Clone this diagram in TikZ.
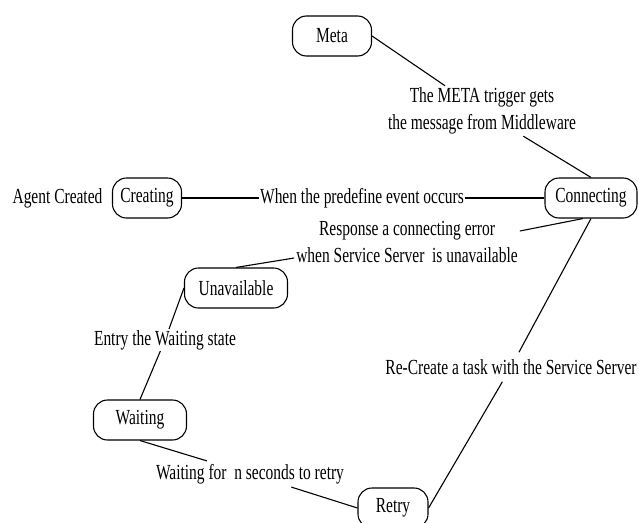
\documentclass[tikz,border=0pt]{standalone}
\usepackage{fontspec}
\setmainfont[FakeStretch=0.72]{Liberation Serif}
\usetikzlibrary{positioning, calc}

\begin{document}
\begin{tikzpicture}[
    x=1pt, y=-1pt,
    font=\fontsize{21.5}{26.5}\selectfont,
    statebox/.style={rectangle, draw=black, fill=white, rounded corners=14pt, minimum height=40pt, inner xsep=2pt, inner ysep=1pt, align=center, line width=1.1pt},
    trans/.style={align=center, inner sep=2pt},
    link/.style={draw=black, line width=1.1pt}
  ]
    \useasboundingbox (0,0) rectangle (639,522);
    % States
    \node (meta) [statebox, minimum width=79pt] at (332,36) {Meta};
    \node (conn) [statebox, minimum width=92pt] at (591,198) {Connecting};
    \node (creating) [statebox, minimum width=69pt] at (147,198) {Creating};
    \node (agent) [left=6pt of creating] {Agent Created};
    \node (unavail) [statebox, minimum width=103pt] at (236,288) {Unavailable};
    \node (waiting) [statebox, minimum width=93pt] at (140,420) {Waiting};
    \node (retry) [statebox, minimum width=70pt] at (393,508) {Retry};

    % Transition texts
    \node (metalbl) [trans, inner ysep=2pt] at (482,111) {The META trigger gets\\the message from Middleware};
    \node (whenlbl) [trans, inner sep=1pt] at (362,198) {When the predefine event occurs};
    \node (resplbl) [trans] at (407,242) {Response a connecting error\\when Service Server\ \ is unavailable};
    \node (entrylbl) [trans, inner ysep=1pt] at (165,340) {Entry the Waiting state};
    \node (waitlbl) [trans, inner ysep=3pt] at (250,474) {Waiting for\ \ n seconds to retry};
    \node (relbl) [trans, inner ysep=7pt] at (511,367) {Re-Create a task with the Service Server};

    % Transitions
    \draw [link] (meta.east) -- (metalbl) (metalbl) -- (conn.north);
    \draw [link] (creating) -- (whenlbl) (whenlbl) -- (conn);
    \draw [link] ([xshift=-8pt]conn.south) -- ([yshift=11pt]resplbl.east);
    \draw [link] ([yshift=-16pt]resplbl.west) -- (unavail.north);
    \draw [link] (unavail.west) -- (entrylbl) (entrylbl) -- (waiting.north);
    \draw [link] (waiting.south) -- (waitlbl) (waitlbl) -- (retry.west);
    \draw [link] (conn.south) -- (relbl) (relbl) -- (retry.east);
\end{tikzpicture}
\end{document}
